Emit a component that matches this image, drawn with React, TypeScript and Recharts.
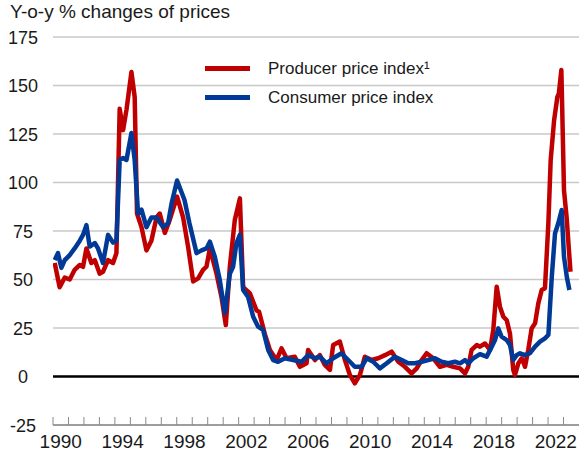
import React from "react";
import {
  LineChart,
  Line,
  XAxis,
  YAxis,
  CartesianGrid,
  ReferenceLine,
  Legend,
} from "recharts";

// decimal year -> y-o-y % change
const ppiDates = [
  1990.11, 1990.43, 1990.76, 1991.08, 1991.4, 1991.73, 1991.94, 1992.16, 1992.48, 1992.7,
  1993.02, 1993.23, 1993.56, 1993.88, 1994.1, 1994.31, 1994.53, 1994.75, 1995.07, 1995.28,
  1995.43, 1995.72, 1996.04, 1996.36, 1996.69, 1996.9, 1997.23, 1997.54, 1998.02, 1998.41,
  1998.73, 1999.06, 1999.38, 1999.7, 1999.92, 2000.14, 2000.57, 2000.89, 2001.17, 2001.43,
  2001.75, 2002.08, 2002.29, 2002.72, 2003.16, 2003.32, 2003.69, 2004.02, 2004.45, 2004.77,
  2005.1, 2005.63, 2005.96, 2006.39, 2006.49, 2006.93, 2007.25, 2007.57, 2007.9, 2008.11,
  2008.54, 2008.87, 2009.19, 2009.51, 2009.84, 2010.16, 2010.6, 2011.02, 2011.46, 2011.89,
  2012.32, 2012.75, 2013.18, 2013.51, 2013.83, 2014.15, 2014.58, 2015.01, 2015.45, 2015.87,
  2016.31, 2016.63, 2016.84, 2017.06, 2017.39, 2017.6, 2017.92, 2018.25, 2018.46, 2018.68,
  2018.89, 2019.11, 2019.33, 2019.54, 2019.75, 2019.86, 2020.08, 2020.3, 2020.51, 2020.72,
  2020.94, 2021.16, 2021.37, 2021.59, 2021.8, 2022.02, 2022.17, 2022.39, 2022.6, 2022.7,
  2022.86, 2023.03, 2023.2, 2023.35, 2023.45,
];
const ppiValues = [
  58.5, 46, 51, 50, 55, 57.5, 56.5, 66, 58.5, 60,
  53, 54, 60, 58.5, 63.6, 138, 127, 137.5, 157, 144,
  84, 77, 65, 70, 82, 84, 74, 80.6, 92.7, 82,
  67, 49, 50.6, 55, 56.6, 66, 53, 41, 26.5, 56.6,
  80.6, 91.8, 46, 43, 34, 33.4, 22, 13.7, 8.5, 14.5,
  9.4, 10.2, 5, 6.8, 13.7, 8.5, 11, 6, 3.4, 16.2,
  18, 8.5, 0.8, -3.5, 0.8, 10.2, 8.5, 9.4, 11, 12.8,
  7.6, 5, 1.6, 4.2, 8.5, 12, 9.4, 5, 6, 5,
  4.2, 1.6, 5, 13.7, 16.2, 15.4, 17, 13.7, 24, 46.3,
  36, 30.8, 29, 22, 3.4, 0.8, 6.8, 9.4, 5, 13.7,
  24.8, 27.4, 37.7, 44.6, 45.5, 79, 111.6, 132, 144, 146,
  158, 96, 82, 65, 54,
];

const cpiDates = [
  1990.11, 1990.32, 1990.54, 1990.76, 1991.08, 1991.4, 1991.73, 1991.94, 1992.16, 1992.37,
  1992.7, 1992.91, 1993.23, 1993.56, 1993.88, 1994.1, 1994.31, 1994.53, 1994.75, 1995.07,
  1995.28, 1995.5, 1995.72, 1996.04, 1996.36, 1996.69, 1997.12, 1997.44, 1997.66, 1998.02,
  1998.5, 1998.82, 1999.28, 1999.6, 1999.92, 2000.14, 2000.46, 2000.78, 2001.11, 2001.43,
  2001.64, 2001.86, 2002.08, 2002.29, 2002.61, 2002.94, 2003.26, 2003.58, 2003.91, 2004.23,
  2004.55, 2004.99, 2005.52, 2006.07, 2006.49, 2006.93, 2007.25, 2007.68, 2008.11, 2008.65,
  2009.08, 2009.51, 2009.95, 2010.27, 2010.7, 2011.13, 2011.57, 2012.1, 2012.54, 2012.96,
  2013.4, 2013.83, 2014.26, 2014.69, 2015.12, 2015.55, 2015.98, 2016.31, 2016.63, 2016.84,
  2017.17, 2017.6, 2018.03, 2018.36, 2018.57, 2018.78, 2019.0, 2019.33, 2019.54, 2019.75,
  2019.97, 2020.19, 2020.51, 2020.83, 2021.16, 2021.48, 2021.8, 2022.02, 2022.24, 2022.45,
  2022.66, 2022.88, 2023.03, 2023.21, 2023.38,
];
const cpiValues = [
  60, 63.6, 56, 60, 62.6, 66, 70, 73, 78, 67,
  68.8, 66, 58.5, 73, 69, 70, 111.6, 112.6, 111.6, 125.5,
  111.6, 84, 86, 77, 82, 82, 77, 79, 89, 101,
  91, 79, 63.6, 65, 66, 69.5, 61.7, 49.7, 32.7, 53,
  56.6, 68.8, 73, 44.6, 41, 30.8, 25.7, 24, 13.7, 8.5,
  7.6, 9.4, 8.5, 7.6, 11, 9.4, 10.2, 6.8, 9.4, 12,
  8.5, 5, 5, 9.4, 7.6, 4.2, 6.8, 10.2, 8.5, 6.8,
  6.8, 7.6, 8.5, 9.4, 7.6, 6.8, 7.6, 6.8, 8.5, 6.8,
  9.4, 11.5, 10.2, 15.4, 18.8, 24.8, 20.5, 18.8, 16.2, 8.5,
  11, 12, 11, 12, 15.4, 18, 19.7, 21.4, 51.4, 73.8,
  79, 85.8, 61.7, 51.4, 44.6,
];

const yTicks = [-25, 0, 25, 50, 75, 100, 125, 150, 175];
const yearTicks = Array.from({ length: 34 }, (_, i) => 1990 + i);
const labelYears = [1990, 1994, 1998, 2002, 2006, 2010, 2014, 2018, 2022];

const ppiData = ppiDates.map((t, i) => ({ t, v: ppiValues[i] }));
const cpiData = cpiDates.map((t, i) => ({ t, v: cpiValues[i] }));

const RED = "#c00000";
const BLUE = "#003a96";
const FONT = "'Liberation Sans', Arial, sans-serif";

const W = 579;
const H = 452;
const PLOT_LEFT = 53;
const HALF_YEAR = (W - PLOT_LEFT) / 34 / 2;

function YearTick({ x, y, payload }: any) {
  const year = payload.value;
  return (
    <g>
      <line x1={x} x2={x} y1={y} y2={y - 8} stroke="#8a8a8a" strokeWidth={1} />
      {labelYears.includes(year) && (
        <text
          x={x + HALF_YEAR}
          y={y + 23}
          textAnchor="middle"
          fontSize={19}
          fontFamily={FONT}
          fill="#1a1a1a"
        >
          {year}
        </text>
      )}
    </g>
  );
}

function ValueTick({ y, payload }: any) {
  return (
    <text x={23} y={y + 6.5} textAnchor="middle" fontSize={18} fontFamily={FONT} fill="#1a1a1a">
      {payload.value}
    </text>
  );
}

function LegendBox() {
  const rows = [
    { label: "Producer price index\u00b9", color: RED },
    { label: "Consumer price index", color: BLUE },
  ];
  return (
    <div style={{ fontFamily: FONT, fontSize: 17, color: "#1a1a1a" }}>
      {rows.map((r) => (
        <div key={r.label} style={{ display: "flex", alignItems: "center", height: 29 }}>
          <span
            style={{ display: "inline-block", width: 45, height: 5, background: r.color, marginRight: 18 }}
          />
          <span>{r.label}</span>
        </div>
      ))}
    </div>
  );
}

export default function App() {
  return (
    <div style={{ position: "absolute", left: 0, top: 0, width: W, height: H, background: "#fff" }}>
      <div
        style={{
          position: "absolute",
          left: 10,
          top: 0,
          fontFamily: FONT,
          fontSize: 19,
          color: "#1a1a1a",
          lineHeight: "24px",
          zIndex: 2,
        }}
      >
        Y-o-y % changes of prices
      </div>
      <LineChart width={W} height={H} margin={{ top: 37, right: 0, bottom: 0, left: 0 }}>
        <CartesianGrid vertical={false} stroke="#c8c8c8" strokeWidth={1.5} />
        <XAxis
          type="number"
          dataKey="t"
          domain={[1990, 2024]}
          ticks={yearTicks}
          allowDataOverflow
          height={27}
          tickSize={0}
          tickMargin={0}
          tickLine={false}
          stroke="#8a8a8a"
          strokeWidth={1.5}
          tick={<YearTick />}
          interval={0}
        />
        <YAxis
          type="number"
          domain={[-25, 175]}
          ticks={yTicks}
          width={PLOT_LEFT}
          axisLine={false}
          tickLine={false}
          tick={<ValueTick />}
          interval={0}
        />
        <ReferenceLine y={0} stroke="#000" strokeWidth={2.5} zIndex={0} />
        <Line
          data={ppiData}
          dataKey="v"
          name="Producer price index"
          stroke={RED}
          strokeWidth={4.5}
          strokeLinejoin="round"
          dot={false}
          isAnimationActive={false}
        />
        <Line
          data={cpiData}
          dataKey="v"
          name="Consumer price index"
          stroke={BLUE}
          strokeWidth={4.5}
          strokeLinejoin="round"
          dot={false}
          isAnimationActive={false}
        />
        <Legend
          layout="vertical"
          align="center"
          verticalAlign="middle"
          content={<LegendBox />}
          wrapperStyle={{ position: "absolute", left: 205, top: 54, width: 260 }}
        />
      </LineChart>
    </div>
  );
}
